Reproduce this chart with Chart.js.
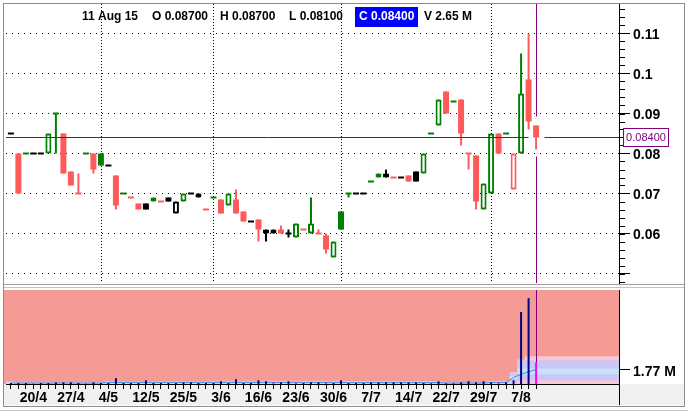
<!DOCTYPE html>
<html>
<head>
<meta charset="utf-8">
<script src="https://cdn.jsdelivr.net/npm/chart.js@4.4.1/dist/chart.umd.min.js"></script>
<style>
  html, body { margin: 0; padding: 0; background: #fff; }
  #wrap { position: relative; width: 688px; height: 412px; overflow: hidden; }
  canvas { position: absolute; left: 0; }
  #price { top: 0; }
  #vol { top: 284px; }
  .ln { position: absolute; pointer-events: none; }
  #frame { left: 3px; top: 3px; width: 680px; height: 402px; border: 1px solid #8c8c8c; }
</style>
</head>
<body>
<div id="wrap">
  <canvas id="price" width="688" height="284"></canvas>
  <canvas id="vol" width="688" height="128"></canvas>
  <div id="frame" class="ln"></div>
  <div class="ln" style="left:4px;top:284px;width:680px;height:1px;background:#a0a0a0"></div>
  <div class="ln" style="left:4px;top:287px;width:680px;height:1px;background:#c4c4c4"></div>
  <div class="ln" style="left:0;top:410px;width:688px;height:1px;background:#c8c8c8"></div>
</div>
<script>
// daily candles, oldest first (last one is 11 Aug 15)
const lastDate = "11 Aug 15";

const open = [
  0.085, 0.080, 0.080, 0.080, 0.080, 0.080, 0.090, 0.085, 0.0755, 0.070,
  0.080, 0.080, 0.080, 0.077, 0.0745, 0.070, 0.069, 0.0675, 0.0675, 0.068,
  0.068, 0.069, 0.065, 0.068, 0.070, 0.069, 0.066, 0.069, 0.0685, 0.067,
  0.0685, 0.0655, 0.063, 0.0635, 0.060, 0.060, 0.061, 0.060, 0.059, 0.061,
  0.060, 0.060, 0.0595, 0.054, 0.0655, 0.070, 0.070, 0.070, 0.073, 0.074,
  0.074, 0.074, 0.074, 0.0745, 0.0755, 0.075, 0.085, 0.087, 0.0955, 0.093,
  0.0935, 0.080, 0.0795, 0.066, 0.070, 0.085, 0.085, 0.071, 0.080, 0.0985,
  0.087
];
const high = [
  0.085, 0.080, 0.080, 0.080, 0.080, 0.085, 0.090, 0.085, 0.0755, 0.075,
  0.080, 0.080, 0.080, 0.077, 0.0745, 0.070, 0.069, 0.0675, 0.0675, 0.069,
  0.068, 0.069, 0.068, 0.070, 0.070, 0.070, 0.066, 0.069, 0.0685, 0.070,
  0.071, 0.0655, 0.063, 0.0635, 0.061, 0.061, 0.062, 0.061, 0.0625, 0.061,
  0.069, 0.061, 0.060, 0.058, 0.0655, 0.070, 0.070, 0.070, 0.073, 0.075,
  0.076, 0.074, 0.074, 0.0745, 0.0755, 0.080, 0.085, 0.0935, 0.0955, 0.093,
  0.0935, 0.080, 0.0795, 0.0725, 0.085, 0.085, 0.085, 0.080, 0.105, 0.110,
  0.087
];
const low = [
  0.085, 0.070, 0.080, 0.080, 0.080, 0.080, 0.080, 0.075, 0.072, 0.070,
  0.080, 0.075, 0.077, 0.077, 0.066, 0.070, 0.069, 0.066, 0.066, 0.068,
  0.068, 0.068, 0.065, 0.068, 0.070, 0.069, 0.066, 0.069, 0.065, 0.067,
  0.065, 0.063, 0.063, 0.058, 0.058, 0.060, 0.060, 0.059, 0.059, 0.061,
  0.060, 0.060, 0.055, 0.054, 0.061, 0.069, 0.070, 0.070, 0.073, 0.074,
  0.074, 0.074, 0.074, 0.073, 0.073, 0.075, 0.085, 0.087, 0.090, 0.093,
  0.082, 0.076, 0.066, 0.066, 0.070, 0.080, 0.085, 0.071, 0.080, 0.086,
  0.081
];
const close = [
  0.085, 0.070, 0.080, 0.080, 0.080, 0.085, 0.090, 0.075, 0.072, 0.070,
  0.080, 0.076, 0.077, 0.077, 0.067, 0.070, 0.069, 0.066, 0.066, 0.069,
  0.068, 0.068, 0.068, 0.070, 0.070, 0.070, 0.066, 0.069, 0.065, 0.070,
  0.065, 0.063, 0.063, 0.061, 0.061, 0.061, 0.060, 0.060, 0.0625, 0.061,
  0.0625, 0.060, 0.056, 0.058, 0.061, 0.070, 0.070, 0.070, 0.073, 0.075,
  0.075, 0.074, 0.074, 0.073, 0.073, 0.080, 0.085, 0.0935, 0.090, 0.093,
  0.085, 0.080, 0.068, 0.0725, 0.085, 0.080, 0.085, 0.080, 0.095, 0.088,
  0.084
];
// volume in millions
const volume = [
  0.12, 0.12, 0.12, 0.10, 0.12, 0.12, 0.20, 0.20, 0.20, 0.12,
  0.10, 0.20, 0.12, 0.12, 0.70, 0.12, 0.12, 0.12, 0.45, 0.12,
  0.12, 0.12, 0.12, 0.20, 0.20, 0.12, 0.12, 0.12, 0.33, 0.12,
  0.58, 0.12, 0.12, 0.45, 0.33, 0.20, 0.20, 0.33, 0.20, 0.12,
  0.20, 0.20, 0.20, 0.12, 0.45, 0.12, 0.12, 0.12, 0.20, 0.20,
  0.20, 0.20, 0.20, 0.20, 0.20, 0.12, 0.08, 0.33, 0.08, 0.08,
  0.20, 0.33, 0.20, 0.33, 0.20, 0.20, 0.20, 0.45, 8.80, 10.50,
  2.65
];
// volume average and its bands (millions)
const volAvg = [
  0.12, 0.12, 0.12, 0.12, 0.12, 0.12, 0.12, 0.12, 0.12, 0.12,
  0.12, 0.12, 0.12, 0.20, 0.20, 0.20, 0.20, 0.20, 0.20, 0.20,
  0.20, 0.20, 0.20, 0.20, 0.20, 0.20, 0.20, 0.20, 0.20, 0.20,
  0.20, 0.20, 0.20, 0.20, 0.20, 0.20, 0.20, 0.20, 0.20, 0.20,
  0.20, 0.20, 0.20, 0.20, 0.20, 0.17, 0.17, 0.17, 0.17, 0.17,
  0.17, 0.17, 0.17, 0.17, 0.17, 0.17, 0.17, 0.17, 0.12, 0.12,
  0.12, 0.12, 0.12, 0.12, 0.18, 0.18, 0.18, 0.80, 1.20, 1.50,
  1.77
];
const bandOuterHi = [
  0.30, 0.20, 0.20, 0.20, 0.20, 0.20, 0.20, 0.20, 0.20, 0.20,
  0.20, 0.20, 0.20, 0.35, 0.35, 0.35, 0.35, 0.35, 0.35, 0.35,
  0.35, 0.35, 0.35, 0.35, 0.35, 0.35, 0.35, 0.40, 0.40, 0.40,
  0.40, 0.40, 0.40, 0.40, 0.40, 0.40, 0.40, 0.40, 0.40, 0.40,
  0.40, 0.40, 0.40, 0.40, 0.40, 0.35, 0.35, 0.35, 0.35, 0.35,
  0.35, 0.35, 0.35, 0.35, 0.35, 0.35, 0.35, 0.35, 0.20, 0.20,
  0.20, 0.20, 0.20, 0.20, 0.35, 0.35, 0.35, 1.45, 3.00, 3.40,
  3.40
];
const bandInnerHi = [
  0.22, 0.15, 0.15, 0.15, 0.15, 0.15, 0.15, 0.15, 0.15, 0.15,
  0.15, 0.15, 0.15, 0.27, 0.27, 0.27, 0.27, 0.27, 0.27, 0.27,
  0.27, 0.27, 0.27, 0.27, 0.27, 0.27, 0.27, 0.30, 0.30, 0.30,
  0.30, 0.30, 0.30, 0.30, 0.30, 0.30, 0.30, 0.30, 0.30, 0.30,
  0.30, 0.30, 0.30, 0.30, 0.30, 0.27, 0.27, 0.27, 0.27, 0.27,
  0.27, 0.27, 0.27, 0.27, 0.27, 0.27, 0.27, 0.27, 0.15, 0.15,
  0.15, 0.15, 0.15, 0.15, 0.27, 0.27, 0.27, 1.25, 2.90, 2.90,
  2.90
];
const bandCoreHi = [
  0.17, 0.12, 0.12, 0.12, 0.12, 0.12, 0.12, 0.12, 0.12, 0.12,
  0.12, 0.12, 0.12, 0.20, 0.20, 0.20, 0.20, 0.20, 0.20, 0.20,
  0.20, 0.20, 0.20, 0.20, 0.20, 0.20, 0.20, 0.22, 0.22, 0.22,
  0.22, 0.22, 0.22, 0.22, 0.22, 0.22, 0.22, 0.22, 0.22, 0.22,
  0.22, 0.22, 0.22, 0.22, 0.22, 0.20, 0.20, 0.20, 0.20, 0.20,
  0.20, 0.20, 0.20, 0.20, 0.20, 0.20, 0.20, 0.20, 0.12, 0.12,
  0.12, 0.12, 0.12, 0.12, 0.20, 0.20, 0.20, 1.00, 1.90, 1.90,
  1.90
];
const bandCoreLo = [
  0.06, 0.06, 0.06, 0.06, 0.06, 0.06, 0.06, 0.06, 0.06, 0.06,
  0.06, 0.06, 0.06, 0.06, 0.06, 0.06, 0.06, 0.06, 0.06, 0.06,
  0.06, 0.06, 0.06, 0.06, 0.06, 0.06, 0.06, 0.06, 0.06, 0.06,
  0.06, 0.06, 0.06, 0.06, 0.06, 0.06, 0.06, 0.06, 0.06, 0.06,
  0.06, 0.06, 0.06, 0.06, 0.06, 0.06, 0.06, 0.06, 0.06, 0.06,
  0.06, 0.06, 0.06, 0.06, 0.06, 0.06, 0.06, 0.06, 0.06, 0.06,
  0.06, 0.06, 0.06, 0.06, 0.06, 0.06, 0.06, 0.60, 1.20, 1.20,
  1.20
];
const bandInnerLo = [
  0.02, 0.02, 0.02, 0.02, 0.02, 0.02, 0.02, 0.02, 0.02, 0.02,
  0.02, 0.02, 0.02, 0.02, 0.02, 0.02, 0.02, 0.02, 0.02, 0.02,
  0.02, 0.02, 0.02, 0.02, 0.02, 0.02, 0.02, 0.02, 0.02, 0.02,
  0.02, 0.02, 0.02, 0.02, 0.02, 0.02, 0.02, 0.02, 0.02, 0.02,
  0.02, 0.02, 0.02, 0.02, 0.02, 0.02, 0.02, 0.02, 0.02, 0.02,
  0.02, 0.02, 0.02, 0.02, 0.02, 0.02, 0.02, 0.02, 0.02, 0.02,
  0.02, 0.02, 0.02, 0.02, 0.02, 0.02, 0.02, 0.20, 0.43, 0.43,
  0.43
];

// axis ticks
const priceTicks = [0.05, 0.06, 0.07, 0.08, 0.09, 0.10, 0.11];
const priceTickLabels = ["", "0.06", "0.07", "0.08", "0.09", "0.1", "0.11"];
const dateTickIdx = [3, 8, 13, 18, 23, 28, 33, 38, 43, 48, 53, 58, 63, 68];
const dateTickText = ["20/4", "27/4", "4/5", "12/5", "25/5", "3/6", "16/6",
  "23/6", "30/6", "7/7", "14/7", "22/7", "29/7", "7/8"];
const monthStarts = [12, 27, 44, 64];

// look
const X_MIN = -0.65, X_MAX = 81.05;
const GREEN = "#008000", RED = "#ff5a5a", BLACK = "#000000", PURPLE = "#800080";
const SALMON = "#f39b94";
const magentaBars = [3, 10, 35, 38, 42, 65, 70];

Chart.defaults.font.family = "'Liberation Sans', Arial, sans-serif";
Chart.defaults.color = "#000";

const last = close.length - 1;
const tick5 = (v) => Math.round(v * 100000);

function candleColor(i) {
  if (i === 0) return BLACK;
  const d = tick5(close[i]) - tick5(close[i - 1]);
  return d > 0 ? GREEN : d < 0 ? RED : BLACK;
}
const isDash = (i) => tick5(close[i]) === tick5(open[i]);
const isHollow = (i) => close[i] > open[i];

const idx = close.map((_, i) => i);
const bodies = idx.filter((i) => !isDash(i)).map((i) => ({ x: i, y: [open[i], close[i]] }));
const wicks = idx.filter((i) => high[i] > low[i]).map((i) => ({ x: i, y: [low[i], high[i]] }));
const dashes = idx.filter(isDash).map((i) => ({ x: i, y: close[i] }));

const rawX = (c) => (c.raw ? c.raw.x : 0);

const priceDecor = {
  id: "priceDecor",
  beforeDatasetsDraw(chart) {
    const { ctx, chartArea: a, scales: { x } } = chart;
    ctx.save();
    ctx.strokeStyle = "#000";
    ctx.lineWidth = 1;
    ctx.setLineDash([1, 2]);
    monthStarts.forEach((i) => {
      const px = Math.round(x.getPixelForValue(i)) + 0.5;
      ctx.beginPath();
      ctx.moveTo(px, a.top);
      ctx.lineTo(px, a.bottom);
      ctx.stroke();
    });
    ctx.restore();
  },
  afterDatasetsDraw(chart) {
    const { ctx, chartArea: a, scales: { x, y } } = chart;
    const px = Math.round(x.getPixelForValue(last)) + 0.5;
    const py = Math.floor(y.getPixelForValue(close[last])) + 0.5;
    ctx.save();
    ctx.strokeStyle = PURPLE;
    ctx.lineWidth = 1;
    ctx.beginPath();
    ctx.moveTo(a.left, py); ctx.lineTo(px - 8, py);
    ctx.moveTo(px + 8, py); ctx.lineTo(a.right, py);
    ctx.moveTo(px, a.top); ctx.lineTo(px, y.getPixelForValue(high[last]) - 9);
    ctx.moveTo(px, y.getPixelForValue(low[last]) + 7); ctx.lineTo(px, a.bottom);
    ctx.stroke();
    ctx.restore();
  },
  afterDraw(chart) {
    const { ctx, chartArea: a, scales: { y } } = chart;
    ctx.save();
    // minor ticks on the price axis
    ctx.strokeStyle = "#000";
    ctx.lineWidth = 1;
    ctx.beginPath();
    for (let k = 24; k <= 58; k++) {
      const ty = Math.round(y.getPixelForValue(k * 0.002)) + 0.5;
      ctx.moveTo(a.right, ty);
      ctx.lineTo(a.right + 6, ty);
    }
    ctx.stroke();

    // last price box
    const py = Math.floor(y.getPixelForValue(close[last])) + 0.5;
    ctx.fillStyle = "#fff";
    ctx.fillRect(623.5, py - 9, 45, 18);
    ctx.strokeStyle = PURPLE;
    ctx.strokeRect(623.5, py - 9, 45, 18);
    ctx.fillStyle = PURPLE;
    ctx.font = "11px 'Liberation Sans', Arial";
    ctx.textAlign = "center";
    ctx.textBaseline = "middle";
    ctx.fillText(close[last].toFixed(5), 646, py + 0.5);

    // header line
    const header = [
      [lastDate, 82],
      ["O " + open[last].toFixed(5), 152],
      ["H " + high[last].toFixed(5), 220],
      ["L " + low[last].toFixed(5), 289],
      ["C " + close[last].toFixed(5), 359, true],
      ["V " + volume[last] + " M", 424],
    ];
    ctx.fillStyle = "#0000ff";
    ctx.fillRect(355, 7, 63, 20);
    ctx.font = "bold 12px 'Liberation Sans', Arial";
    ctx.textAlign = "left";
    header.forEach(([t, hx, hi]) => {
      ctx.fillStyle = hi ? "#fff" : "#000";
      ctx.fillText(t, hx, 17);
    });
    ctx.restore();
  },
};

new Chart(document.getElementById("price"), {
  type: "bar",
  data: {
    datasets: [
      {
        type: "scatter",
        data: dashes,
        order: 0,
        pointStyle: "line",
        pointRadius: 3,
        pointBorderWidth: 2,
        pointBorderColor: (c) => candleColor(rawX(c)),
      },
      {
        data: bodies,
        order: 1,
        grouped: false,
        barThickness: 6,
        inflateAmount: 0,
        borderSkipped: false,
        backgroundColor: (c) => (isHollow(rawX(c)) ? "#fff" : candleColor(rawX(c))),
        borderColor: (c) => candleColor(rawX(c)),
        borderWidth: (c) => (isHollow(rawX(c)) ? 2 : 0),
      },
      {
        data: wicks,
        order: 2,
        grouped: false,
        barThickness: 2,
        inflateAmount: 0,
        borderWidth: 0,
        backgroundColor: (c) => candleColor(rawX(c)),
      },
    ],
  },
  options: {
    responsive: false,
    animation: false,
    devicePixelRatio: 1,
    events: [],
    layout: { autoPadding: false, padding: { left: 6, top: 4, right: 0, bottom: 1 } },
    plugins: { legend: { display: false }, tooltip: { enabled: false } },
    scales: {
      x: { type: "linear", min: X_MIN, max: X_MAX, offset: false, display: false },
      y: {
        position: "right",
        min: 0.047625,
        max: 0.117375,
        beginAtZero: false,
        afterBuildTicks: (s) => { s.ticks = priceTicks.map((v) => ({ value: v })); },
        afterFit: (s) => { s.width = 69; s.paddingTop = 0; s.paddingBottom = 0; },
        ticks: {
          callback: (v, k) => priceTickLabels[k],
          font: { size: 14, weight: "bold" },
          padding: 3,
          labelOffset: 2,
          autoSkip: false,
        },
        grid: { color: "#000", tickColor: "#000", tickLength: 11 },
        border: { color: "#000", dash: [1, 5] },
      },
    },
  },
  plugins: [priceDecor],
});

const volDecor = {
  id: "volDecor",
  beforeDraw(chart) {
    const { ctx, chartArea: a } = chart;
    ctx.save();
    ctx.fillStyle = "#f0f0f0";
    ctx.fillRect(4, a.bottom, 680, 21);
    ctx.fillStyle = SALMON;
    ctx.fillRect(4, a.top, a.right - 4, a.bottom - a.top);
    ctx.restore();
  },
  afterDatasetsDraw(chart) {
    const { ctx, chartArea: a, scales: { x, y } } = chart;
    const px = Math.round(x.getPixelForValue(last)) + 0.5;
    ctx.save();
    ctx.strokeStyle = PURPLE;
    ctx.lineWidth = 1;
    ctx.beginPath();
    ctx.moveTo(px, a.top);
    ctx.lineTo(px, y.getPixelForValue(volume[last]));
    ctx.stroke();
    ctx.restore();
  },
  afterDraw(chart) {
    const { ctx, chartArea: a } = chart;
    ctx.save();
    ctx.strokeStyle = "#000";
    ctx.lineWidth = 1;
    ctx.beginPath();
    ctx.moveTo(Math.round(a.right) + 0.5, a.bottom);
    ctx.lineTo(Math.round(a.right) + 0.5, a.bottom + 21);
    ctx.stroke();
    ctx.restore();
  },
};

const band = (arr) => [
  { x: X_MIN, y: arr[0] },
  ...arr.map((v, i) => ({ x: i, y: v })),
  { x: X_MAX, y: arr[arr.length - 1] },
];
const bandSet = (arr, fill, color, order) => ({
  type: "line",
  data: band(arr),
  order: order,
  stepped: "middle",
  fill: fill,
  backgroundColor: color,
  borderColor: "transparent",
  borderWidth: 0,
  pointRadius: 0,
});

new Chart(document.getElementById("vol"), {
  type: "bar",
  data: {
    datasets: [
      {
        data: volume.map((v, i) => ({ x: i, y: v })),
        order: 0,
        grouped: false,
        barThickness: 2,
        inflateAmount: 0,
        borderWidth: 0,
        backgroundColor: (c) => (magentaBars.includes(rawX(c)) ? "#ff00ff" : "#000080"),
      },
      {
        type: "line",
        data: volAvg.map((v, i) => ({ x: i, y: v })),
        order: 1,
        borderColor: "#3a8ee6",
        borderWidth: 1,
        pointRadius: 0,
        fill: false,
      },
      bandSet(bandCoreHi, "+1", "#c6e2fa", 2),
      bandSet(bandCoreLo, false, "transparent", 2),
      bandSet(bandInnerHi, "+1", "#c9c7f3", 3),
      bandSet(bandInnerLo, false, "transparent", 3),
      bandSet(bandOuterHi, "origin", "#fcc6d4", 4),
    ],
  },
  options: {
    responsive: false,
    animation: false,
    devicePixelRatio: 1,
    events: [],
    layout: { autoPadding: false, padding: { left: 6, top: 6, right: 0, bottom: 0 } },
    plugins: { legend: { display: false }, tooltip: { enabled: false } },
    scales: {
      x: {
        type: "linear",
        min: X_MIN,
        max: X_MAX,
        offset: false,
        afterBuildTicks: (s) => { s.ticks = idx.map((i) => ({ value: i })); },
        afterFit: (s) => { s.height = 28; s.paddingLeft = 0; s.paddingRight = 0; },
        ticks: {
          callback: (v) => {
            const k = dateTickIdx.indexOf(v);
            return k < 0 ? "" : dateTickText[k];
          },
          autoSkip: false,
          maxRotation: 0,
          minRotation: 0,
          padding: 1,
          font: { size: 14, weight: "bold" },
        },
        grid: { drawOnChartArea: false, color: "#000", tickColor: "#000", tickLength: 5, offset: false },
        border: { color: "#000" },
      },
      y: {
        position: "right",
        min: 0,
        max: 11.5,
        afterBuildTicks: (s) => { s.ticks = [{ value: volAvg[last] }]; },
        afterFit: (s) => { s.width = 69; s.paddingTop = 0; s.paddingBottom = 0; },
        ticks: {
          callback: (v) => v + " M",
          font: { size: 14, weight: "bold" },
          padding: 3,
          labelOffset: 3,
        },
        grid: { drawOnChartArea: false, color: "#000", tickColor: "#000", tickLength: 11 },
        border: { color: "#000" },
      },
    },
  },
  plugins: [volDecor],
});
</script>
</body>
</html>
